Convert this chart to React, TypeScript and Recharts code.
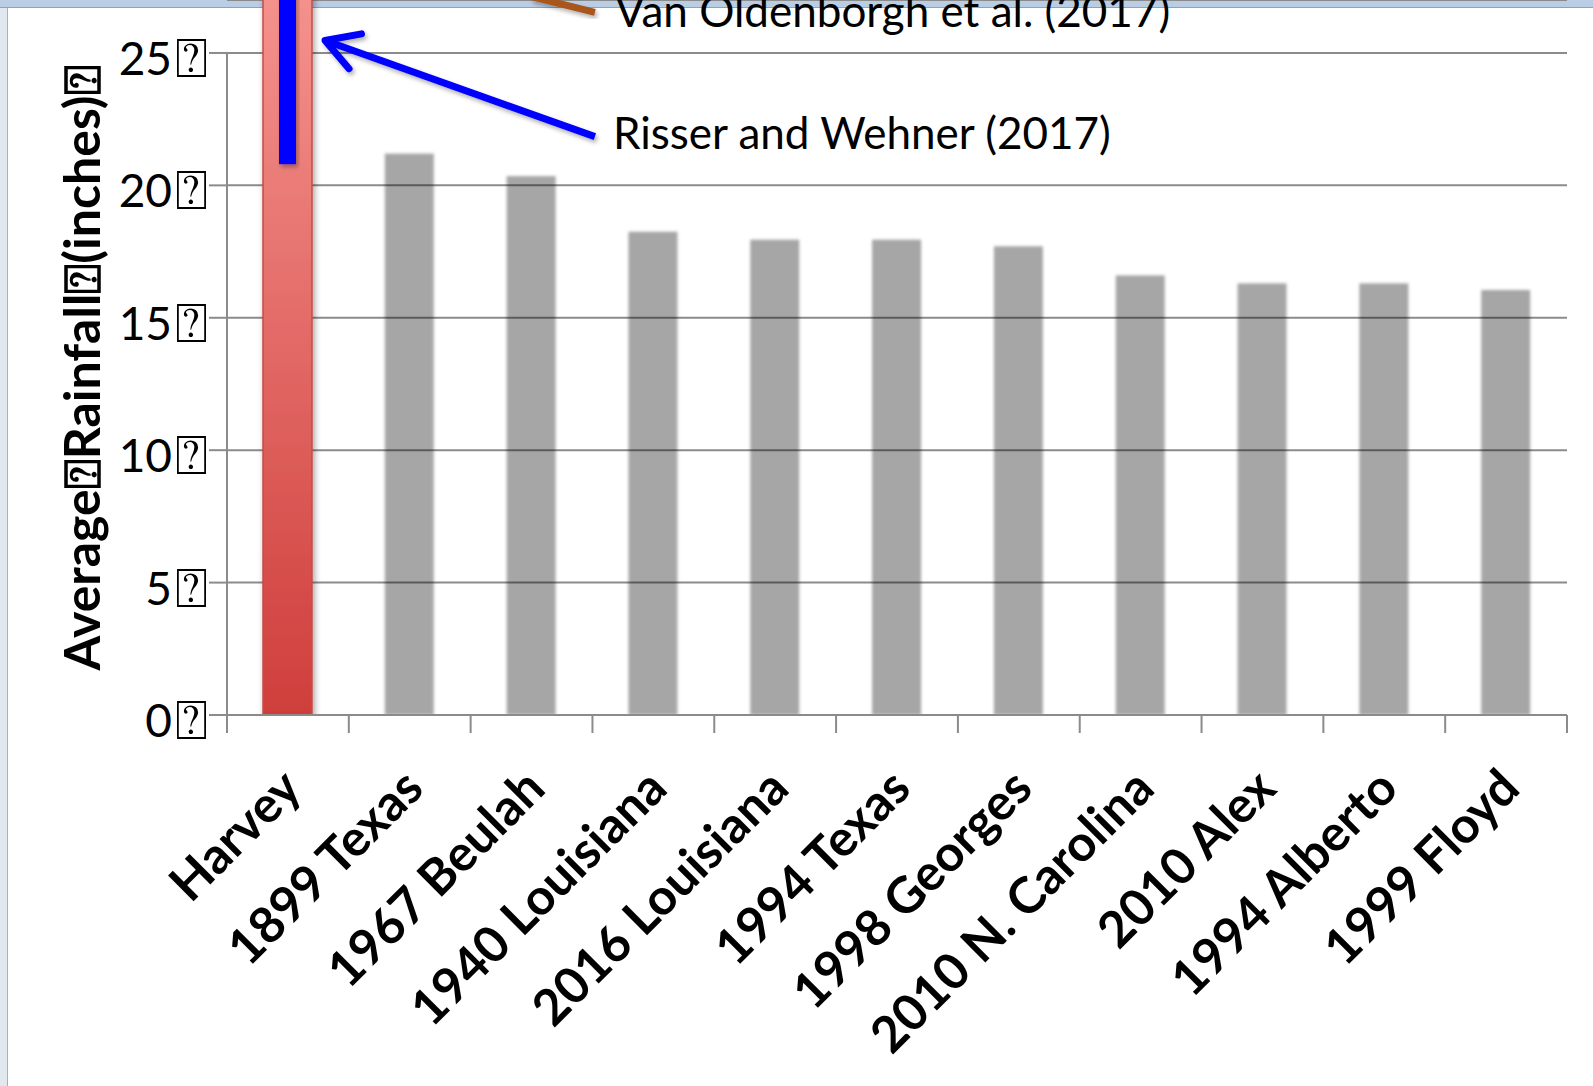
import React from 'react';
import { BarChart, Bar, XAxis, YAxis, CartesianGrid, ReferenceLine, Cell } from 'recharts';

// ---- data ----
const categories = [
  'Harvey',
  '1899 Texas',
  '1967 Beulah',
  '1940 Louisiana',
  '2016 Louisiana',
  '1994 Texas',
  '1998 Georges',
  '2010 N. Carolina',
  '2010 Alex',
  '1994 Alberto',
  '1999 Floyd',
];
const rainfall = [33.7, 21.2, 20.35, 18.25, 17.95, 17.95, 17.7, 16.6, 16.3, 16.3, 16.05];
const risserWehnerRange = [20.8, 33.7];
const yTicks = [0, 5, 10, 15, 20, 25];
const yDomain = [0, 27];
const annDomain = [0, 11];
const annTicks = [0, 1, 2, 3, 4, 5, 6, 7, 8, 9, 10, 11];
const BOX = '\u2370';
const risserLabel = 'Risser and Wehner (2017)';
const oldenborghLabel = 'Van Oldenborgh et al. (2017)';
// annotation segments in data coordinates (x on 0..11 category scale, y in inches)
const risserArrow = [{ x: 0.805, y: 25.47 }, { x: 3.02, y: 21.84 }];
const oldenborghLine = [{ x: 2.5, y: 27.13 }, { x: 3.02, y: 26.53 }];
const yAxisLine = [{ x: 0, y: 0 }, { x: 0, y: 25 }];

const data = categories.map((name, i) => ({
  name,
  pos: i + 0.5,
  rain: rainfall[i],
  rw: i === 0 ? risserWehnerRange : null,
}));

const FONT = 'Lato, "Open Sans", sans-serif';
const GRID = '#8b8b8b';

const YTick = (props: any) => {
  const { x, y, payload } = props;
  return (
    <g>
      <text x={x - 30} y={y} dy={22} textAnchor="end" fontFamily={FONT} fontSize={46} fill="#000">
        {payload.value}
      </text>
      <text x={x - 27} y={y} dy={24} textAnchor="start" fontFamily="DejaVu Sans" fontSize={55} fill="#000">
        {BOX}
      </text>
    </g>
  );
};

const XTick = (props: any) => {
  const { x, y, payload, index, visibleTicksCount, width } = props;
  const half =
    payload && typeof payload.offset === 'number' && payload.offset > 0
      ? payload.offset
      : width && visibleTicksCount
      ? width / visibleTicksCount / 2
      : 61;
  const y0 = y - 18;
  const ax = x + 16;
  const ay = y + 58;
  return (
    <g>
      <line x1={x - half} y1={y0} x2={x - half} y2={y0 + 18} stroke={GRID} strokeWidth={2} />
      {index === visibleTicksCount - 1 && (
        <line x1={x + half} y1={y0} x2={x + half} y2={y0 + 18} stroke={GRID} strokeWidth={2} />
      )}
      <text
        x={ax}
        y={ay}
        transform={`rotate(-45, ${ax}, ${ay})`}
        textAnchor="end"
        fontFamily={FONT}
        fontWeight={700}
        fontSize={50}
        fill="#000"
      >
        {payload.value}
      </text>
    </g>
  );
};

const MainBarShape = (props: any) => {
  const { x, y, width, height, index } = props;
  if (index === 0) {
    return (
      <rect
        x={x}
        y={y}
        width={width}
        height={height}
        fill="url(#harveyGrad)"
        stroke="#c44c48"
        strokeWidth={1.5}
        filter="url(#barShadow)"
      />
    );
  }
  return <rect x={x} y={y} width={width} height={height} fill="#000" fillOpacity={0.35} filter="url(#soft)" />;
};

const BlueShape = (props: any) => {
  const { x, y, width, height } = props;
  return <rect x={x} y={y} width={width} height={height} fill="#0000ff" filter="url(#lineShadow)" />;
};

const ArrowShape = (props: any) => {
  const { x1, y1, x2, y2 } = props;
  const ang = Math.atan2(y2 - y1, x2 - x1);
  const L = 37;
  const a1 = ang - Math.PI / 6;
  const a2 = ang + Math.PI / 6;
  return (
    <g>
      <g filter="url(#lineShadow)">
        <line x1={x1} y1={y1} x2={x2} y2={y2} stroke="#0000ff" strokeWidth={7} />
        <polyline
          points={`${x1 + L * Math.cos(a1)},${y1 + L * Math.sin(a1)} ${x1},${y1} ${x1 + L * Math.cos(a2)},${y1 + L * Math.sin(a2)}`}
          fill="none"
          stroke="#0000ff"
          strokeWidth={7}
          strokeLinecap="round"
          strokeLinejoin="round"
        />
      </g>
      <text x={x2 + 18} y={y2 + 12} fontFamily={FONT} fontSize={44} fill="#000">
        {risserLabel}
      </text>
    </g>
  );
};

const BrownShape = (props: any) => {
  const { x1, y1, x2, y2 } = props;
  return (
    <g>
      <line x1={x1} y1={y1} x2={x2} y2={y2} stroke="#a9561d" strokeWidth={7} filter="url(#lineShadow)" />
      <text x={x2 + 20} y={y2 + 15} fontFamily={FONT} fontSize={44} fill="#000">
        {oldenborghLabel}
      </text>
    </g>
  );
};

const AxisLineShape = (props: any) => {
  const { x1, y1, x2, y2 } = props;
  return <line x1={x1} y1={y1} x2={x2} y2={y2} stroke={GRID} strokeWidth={2} />;
};

export default function App() {
  return (
    <div style={{ position: 'absolute', left: 0, top: 0, width: 1593, height: 1086, background: '#fff', overflow: 'hidden' }}>
      <div style={{ position: 'absolute', left: 0, top: 0, width: 1593, height: 7, background: '#b9cde5', borderBottom: '1px solid #8ea2bb' }} />
      <div style={{ position: 'absolute', left: 0, top: 8, width: 7, height: 1078, background: '#e2e8ef', borderRight: '1px solid #a7b1bd' }} />
      <div style={{ position: 'absolute', left: 0, top: 0 }}>
        <BarChart
          width={1593}
          height={1086}
          data={data}
          margin={{ top: 0, right: 26, bottom: 0, left: 0 }}
          barGap={0}
        >
          <defs>
            <linearGradient id="harveyGrad" x1="0" y1="0" x2="0" y2="1">
              <stop offset="0" stopColor="#fba9a5" />
              <stop offset="0.2" stopColor="#f4918d" />
              <stop offset="1" stopColor="#cf3e3b" />
            </linearGradient>
            <filter id="soft" x="-20%" y="-5%" width="140%" height="110%">
              <feGaussianBlur stdDeviation="1.6" />
            </filter>
            <filter id="barShadow" x="-30%" y="-5%" width="160%" height="110%">
              <feDropShadow dx="2" dy="4" stdDeviation="3" floodColor="#000" floodOpacity="0.35" />
            </filter>
            <filter id="lineShadow" x="-20%" y="-20%" width="140%" height="160%">
              <feDropShadow dx="2" dy="3" stdDeviation="2" floodColor="#000" floodOpacity="0.3" />
            </filter>
          </defs>
          <CartesianGrid vertical={false} horizontal stroke={GRID} strokeWidth={2} xAxisId="cat" />
          <XAxis
            xAxisId="cat"
            dataKey="name"
            interval={0}
            height={371}
            tickSize={18}
            tickMargin={0}
            axisLine={{ stroke: GRID, strokeWidth: 2 }}
            tickLine={false}
            tick={<XTick />}
          />
          <XAxis xAxisId="rw" dataKey="name" hide orientation="top" height={0} />
          <XAxis
            xAxisId="ann"
            dataKey="pos"
            type="number"
            domain={annDomain}
            ticks={annTicks}
            tickCount={12}
            allowDataOverflow
            hide
            orientation="top"
            height={0}
          />
          <YAxis
            width={227}
            domain={yDomain}
            ticks={yTicks}
            allowDataOverflow
            axisLine={false}
            tickSize={18}
            tickMargin={7}
            tickLine={{ stroke: GRID, strokeWidth: 2 }}
            tick={<YTick />}
          />
          <Bar xAxisId="cat" dataKey="rain" barSize={49} isAnimationActive={false} shape={<MainBarShape />}>
            {data.map((d, i) => (
              <Cell key={d.name} fill={i === 0 ? 'url(#harveyGrad)' : '#a6a6a6'} />
            ))}
          </Bar>
          <Bar xAxisId="rw" dataKey="rw" barSize={17} isAnimationActive={false} shape={<BlueShape />} />
          <ReferenceLine xAxisId="ann" segment={yAxisLine} ifOverflow="visible" shape={<AxisLineShape />} />
          <ReferenceLine xAxisId="ann" segment={risserArrow} ifOverflow="visible" shape={<ArrowShape />} />
          <ReferenceLine xAxisId="ann" segment={oldenborghLine} ifOverflow="visible" shape={<BrownShape />} />
          <text
            x={100}
            y={368}
            transform="rotate(-90, 100, 368)"
            textAnchor="middle"
            fontFamily={FONT}
            fontWeight={700}
            fontSize={50}
            fill="#000"
          >
            Average<tspan fontFamily="DejaVu Sans" fontSize={50}>{BOX}</tspan>Rainfall
            <tspan fontFamily="DejaVu Sans" fontSize={50}>{BOX}</tspan>(inches)
            <tspan fontFamily="DejaVu Sans" fontSize={50}>{BOX}</tspan>
          </text>
        </BarChart>
      </div>
    </div>
  );
}
